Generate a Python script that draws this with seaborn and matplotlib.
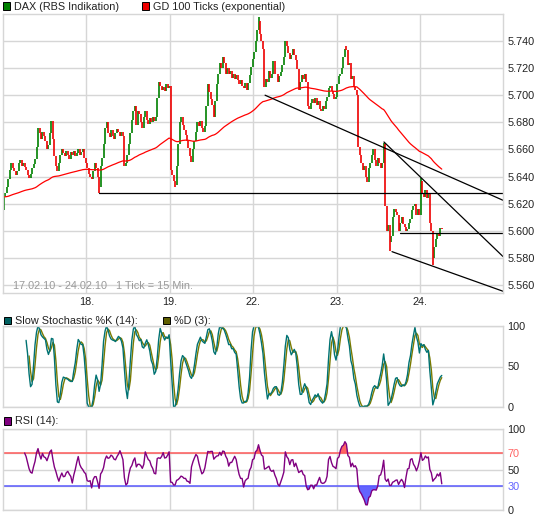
import numpy as np
import pandas as pd
import matplotlib
matplotlib.use("Agg")
import matplotlib.pyplot as plt
from matplotlib.patches import Rectangle
import seaborn as sns

# --- DATA: close per 15-min tick (56 ticks per day) ---
close_17 = [5.625, 5.628, 5.632, 5.638, 5.645, 5.650, 5.646, 5.644, 5.641, 5.644,
            5.650, 5.652, 5.648, 5.650, 5.647, 5.645, 5.641, 5.639, 5.642, 5.646,
            5.649, 5.653, 5.662, 5.676, 5.672, 5.668, 5.673, 5.670, 5.666, 5.660,
            5.663, 5.672, 5.681, 5.668, 5.655, 5.648, 5.644, 5.650, 5.656, 5.660,
            5.657, 5.655, 5.659, 5.656, 5.653, 5.658, 5.656, 5.659, 5.655, 5.657,
            5.660, 5.656, 5.658, 5.660, 5.654, 5.650]
close_18 = [5.646, 5.642, 5.640, 5.638, 5.644, 5.650, 5.646, 5.640, 5.632, 5.648,
            5.654, 5.664, 5.676, 5.680, 5.672, 5.669, 5.674, 5.670, 5.668, 5.672,
            5.675, 5.673, 5.670, 5.673, 5.670, 5.648, 5.650, 5.656, 5.664, 5.672,
            5.682, 5.688, 5.692, 5.678, 5.688, 5.686, 5.680, 5.676, 5.684, 5.688,
            5.682, 5.679, 5.683, 5.680, 5.684, 5.681, 5.684, 5.698, 5.710, 5.707,
            5.704, 5.706, 5.703, 5.708, 5.705, 5.707]
close_19 = [5.645, 5.641, 5.637, 5.634, 5.648, 5.664, 5.680, 5.684, 5.678, 5.674,
            5.671, 5.666, 5.661, 5.655, 5.651, 5.660, 5.666, 5.673, 5.680, 5.677,
            5.681, 5.676, 5.673, 5.677, 5.692, 5.708, 5.702, 5.697, 5.693, 5.684,
            5.696, 5.708, 5.716, 5.724, 5.720, 5.728, 5.724, 5.716, 5.720, 5.716,
            5.718, 5.713, 5.716, 5.712, 5.715, 5.711, 5.708, 5.711, 5.707, 5.705,
            5.709, 5.704, 5.709, 5.715, 5.721, 5.727]
close_22 = [5.732, 5.740, 5.748, 5.755, 5.745, 5.740, 5.734, 5.706, 5.712, 5.710,
            5.718, 5.713, 5.716, 5.725, 5.716, 5.716, 5.710, 5.714, 5.717, 5.722,
            5.728, 5.740, 5.736, 5.731, 5.727, 5.730, 5.734, 5.730, 5.726, 5.719,
            5.704, 5.710, 5.715, 5.712, 5.716, 5.710, 5.692, 5.690, 5.694, 5.697,
            5.694, 5.698, 5.693, 5.696, 5.690, 5.688, 5.692, 5.690, 5.696, 5.699,
            5.705, 5.707, 5.703, 5.701, 5.697, 5.699]
close_23 = [5.708, 5.714, 5.716, 5.720, 5.728, 5.734, 5.733, 5.722, 5.724, 5.712,
            5.714, 5.706, 5.704, 5.700, 5.662, 5.656, 5.650, 5.645, 5.648, 5.640,
            5.636, 5.646, 5.650, 5.656, 5.660, 5.652, 5.648, 5.654, 5.650, 5.646,
            5.650, 5.664, 5.618, 5.600, 5.604, 5.592, 5.596, 5.610, 5.616, 5.614,
            5.612, 5.600, 5.606, 5.610, 5.605, 5.603, 5.600, 5.601, 5.606, 5.609,
            5.615, 5.618, 5.620, 5.612, 5.616, 5.612]
close_24 = [5.637, 5.628, 5.625, 5.630, 5.624, 5.628, 5.606, 5.600, 5.580, 5.588,
            5.594, 5.598, 5.596, 5.602, 5.601]
first_open = 5.615
spike_highs = {171: 5.758, 230: 5.736, 255: 5.665, 280: 5.639}
spike_lows = {64: 5.628, 115: 5.632, 259: 5.585, 288: 5.575}

day_labels = ['18.', '19.', '22.', '23.', '24.']
ticks_per_day = 56

# drawn analysis lines: (tick, price) -> (tick, price)
trend_lines = [
    ((64.0, 5.628), (335.1, 5.628)),
    ((175.4, 5.700), (335.1, 5.6225)),
    ((255.2, 5.6655), (335.1, 5.581)),
    ((260.6, 5.5846), (335.1, 5.5554)),
    ((266.0, 5.598), (335.1, 5.598)),
]
price_ticks = [5.560, 5.580, 5.600, 5.620, 5.640, 5.660, 5.680, 5.700, 5.720, 5.740]

# --- build frame ---
close = np.array(close_17 + close_18 + close_19 + close_22 + close_23 + close_24)
n = len(close)
df = pd.DataFrame({'tick': np.arange(n), 'close': close})
df['open'] = df['close'].shift(1).fillna(first_open)
df['high'] = df[['open', 'close']].max(axis=1)
df['low'] = df[['open', 'close']].min(axis=1)
for i, v in spike_highs.items():
    df.loc[i, 'high'] = max(df.loc[i, 'high'], v)
for i, v in spike_lows.items():
    df.loc[i, 'low'] = min(df.loc[i, 'low'], v)

df['ema'] = df['close'].ewm(span=100, adjust=False).mean()
ll = df['low'].rolling(14).min()
hh = df['high'].rolling(14).max()
fast_k = 100 * (df['close'] - ll) / (hh - ll)
df['slow_k'] = fast_k.rolling(3).mean()
df['slow_d'] = df['slow_k'].rolling(3).mean()
delta = df['close'].diff()
up = delta.clip(lower=0).rolling(14).mean()
dn = (-delta.clip(upper=0)).rolling(14).mean()
df['rsi'] = 100 - 100 / (1 + up / dn)

# --- figure ---
sns.set_theme(style="white")
plt.rcParams['font.family'] = ['Liberation Sans', 'DejaVu Sans']
W, H = 545, 516
fig = plt.figure(figsize=(W / 100, H / 100), dpi=100)
fs = 7.8
txt = '#222222'
grid_c = '#d6d6d6'
xlim = (-0.5, 335.1)
day_edges = [ticks_per_day * (k + 1) - 0.5 for k in range(len(day_labels))]


def px_axes(top, bottom):
    return fig.add_axes([3 / W, 1 - bottom / H, 500 / W, (bottom - top) / H])


def style(ax, yt, ylim):
    ax.set_xlim(*xlim)
    ax.set_ylim(*ylim)
    for s in ax.spines.values():
        s.set_color(grid_c)
        s.set_linewidth(1)
    ax.set_xticks(day_edges)
    ax.set_yticks(yt)
    ax.grid(True, color=grid_c, lw=1)
    ax.set_axisbelow(True)
    ax.yaxis.tick_right()
    ax.tick_params(axis='y', length=0, pad=3, labelsize=fs, labelcolor=txt)
    ax.tick_params(axis='x', length=0, pad=3, labelsize=fs, labelcolor=txt)
    ax.set_xlabel('')
    ax.set_ylabel('')


def legend_box(x, y, color, label):
    fig.patches.append(Rectangle((x / W, 1 - (y + 7.5) / H), 7.5 / W, 7.5 / H,
                                 transform=fig.transFigure, facecolor=color,
                                 edgecolor='black', lw=0.7))
    fig.text((x + 11.5) / W, 1 - (y + 4) / H, label, fontsize=fs, color=txt,
             va='center', ha='left')


# main price panel
ax = px_axes(14, 293)
up_bar = df['close'] >= df['open']
ax.vlines(df.loc[up_bar, 'tick'], df.loc[up_bar, 'low'], df.loc[up_bar, 'high'],
          color='#008000', lw=1.2)
ax.vlines(df.loc[~up_bar, 'tick'], df.loc[~up_bar, 'low'], df.loc[~up_bar, 'high'],
          color='#ee0000', lw=1.2)
sns.lineplot(data=df, x='tick', y='ema', ax=ax, color='#ff0000', lw=0.9)
for (x0, y0), (x1, y1) in trend_lines:
    ax.plot([x0, x1], [y0, y1], color='black', lw=0.9)
style(ax, price_ticks, (5.5541, 5.7599))
ax.set_yticklabels([f'{v:.3f}' for v in price_ticks])
ax.set_xticklabels(day_labels)
ax.text(10 / 500, 7.3 / 279, '17.02.10 - 24.02.10   1 Tick = 15 Min.',
        transform=ax.transAxes, fontsize=fs, color='#9a9a9a', va='center')
legend_box(2.5, 2.5, '#008000', 'DAX (RBS Indikation)')
legend_box(141.5, 2.5, '#ee0000', 'GD 100 Ticks (exponential)')

# slow stochastic panel
ax2 = px_axes(326, 407)
sns.lineplot(data=df, x='tick', y='slow_d', ax=ax2, color='#7a7a00', lw=1.0)
sns.lineplot(data=df, x='tick', y='slow_k', ax=ax2, color='#007272', lw=1.0)
style(ax2, [0, 50, 100], (0, 100))
ax2.set_xticklabels([])
legend_box(3.5, 316.5, '#006060', 'Slow Stochastic %K (14):')
legend_box(163, 316.5, '#5e5e00', '%D (3):')

# RSI panel
ax3 = px_axes(429, 510)
rsi = df['rsi'].to_numpy()
ax3.fill_between(df['tick'], rsi, 70, where=rsi > 70, interpolate=True,
                 color='#ff6464', lw=0)
ax3.fill_between(df['tick'], rsi, 30, where=rsi < 30, interpolate=True,
                 color='#6464ff', lw=0)
ax3.axhline(70, color='#ff5a5a', lw=1.1)
ax3.axhline(30, color='#5a5aff', lw=1.1)
sns.lineplot(data=df, x='tick', y='rsi', ax=ax3, color='#800080', lw=1.0)
style(ax3, [0, 30, 50, 70, 100], (0, 100))
ax3.set_xticklabels([])
for lab in ax3.get_yticklabels():
    if lab.get_text() == '70':
        lab.set_color('#ff6464')
    elif lab.get_text() == '30':
        lab.set_color('#6464ff')
legend_box(3.5, 417, '#800080', 'RSI (14):')

fig.savefig('out.png', dpi=100)
